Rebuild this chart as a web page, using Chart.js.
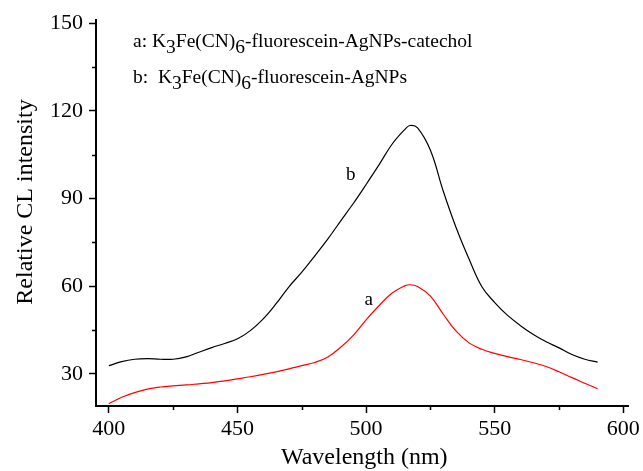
<!DOCTYPE html>
<html>
<head>
<meta charset="utf-8">
<script src="https://cdn.jsdelivr.net/npm/chart.js@4/dist/chart.umd.min.js"></script>
<style>
html,body{margin:0;padding:0;background:#fff;}
#wrap{position:relative;width:643px;height:471px;}
</style>
</head>
<body>
<div id="wrap"><canvas id="c" width="643" height="471"></canvas></div>
<script>
// ---- data ----
const wavelengths = [400,405,410,415,420,425,430,435,440,445,450,455,460,465,470,475,480,485,490,495,500,505,510,515,517,520,525,530,535,540,545,550,555,560,565,570,575,580,585,590];
const seriesA = [19.8,22.0,23.6,24.8,25.5,25.9,26.2,26.6,27.0,27.6,28.3,29.0,29.8,30.7,31.7,32.8,33.9,35.7,39.0,43.2,48.5,53.3,57.6,60.1,60.5,59.9,56.6,50.4,44.6,40.6,38.4,37.0,35.9,34.9,33.8,32.5,30.7,28.7,26.8,24.9];
const seriesB = [32.8,34.2,35.0,35.2,35.0,35.0,35.8,37.4,39.0,40.4,42.0,44.8,48.8,54.0,59.8,64.8,70.3,76.0,82.2,88.3,94.8,101.5,108.5,113.6,115.0,114.2,106.5,92.5,80.0,69.3,59.8,54.4,50.0,46.5,43.5,41.0,38.9,36.6,35.0,34.0];
const xTicks = [400,450,500,550,600];
const yTicks = [30,60,90,120,150];
const xMinor = [425,475,525,575];
const yMinor = [45,75,105,135];
const xTitle = 'Wavelength (nm)';
const yTitle = 'Relative CL intensity';
const legendA = [["a: K",0],["3",1],["Fe(CN)",0],["6",1],["-fluorescein-AgNPs-catechol",0]];
const legendB = [["b:  K",0],["3",1],["Fe(CN)",0],["6",1],["-fluorescein-AgNPs",0]];

const FONT = '"Liberation Serif", "Times New Roman", serif';

const extras = {
  id: 'extras',
  afterDraw(chart) {
    const ctx = chart.ctx;
    const xs = chart.scales.x, ys = chart.scales.y;
    ctx.save();
    // minor ticks
    ctx.strokeStyle = '#000';
    ctx.lineWidth = 1.5;
    ctx.beginPath();
    xMinor.forEach(v => {
      const px = Math.round(xs.getPixelForValue(v)) + 0.5;
      ctx.moveTo(px, xs.top); ctx.lineTo(px, xs.top + 4);
    });
    yMinor.forEach(v => {
      const py = Math.round(ys.getPixelForValue(v)) + 0.5;
      ctx.moveTo(ys.right, py); ctx.lineTo(ys.right - 4, py);
    });
    ctx.stroke();
    ctx.fillStyle = '#000';
    ctx.textBaseline = 'alphabetic';
    // axis titles
    ctx.font = '24px ' + FONT;
    ctx.textAlign = 'center';
    ctx.fillText(xTitle, (xs.left + xs.right) / 2 + 2, 464);
    ctx.save();
    ctx.translate(32, 202);
    ctx.rotate(-Math.PI / 2);
    ctx.fillText(yTitle, 0, 0);
    ctx.restore();
    // curve labels
    ctx.font = '19px ' + FONT;
    ctx.fillText('b', xs.getPixelForValue(494), ys.getPixelForValue(96.5));
    ctx.fillText('a', xs.getPixelForValue(501), ys.getPixelForValue(53.7));
    // legend text
    ctx.textAlign = 'left';
    const drawLine = (parts, x, y) => {
      parts.forEach(([t, sub]) => {
        ctx.fillText(t, x, y + (sub ? 6 : 0));
        x += ctx.measureText(t).width;
      });
    };
    ctx.font = '19.5px ' + FONT;
    drawLine(legendA, 133, 47);
    drawLine(legendB, 133, 83);
    ctx.restore();
  }
};

new Chart(document.getElementById('c'), {
  type: 'line',
  data: {
    labels: wavelengths,
    datasets: [
      { label: 'a', data: wavelengths.map((w, i) => ({x: w, y: seriesA[i]})), borderColor: '#ff0000', borderWidth: 1.2, pointRadius: 0, tension: 0.4, fill: false },
      { label: 'b', data: wavelengths.map((w, i) => ({x: w, y: seriesB[i]})), borderColor: '#000000', borderWidth: 1.2, pointRadius: 0, tension: 0.4, fill: false }
    ]
  },
  options: {
    responsive: false,
    animation: false,
    devicePixelRatio: 1,
    layout: { padding: { top: 20, right: 13, left: 0, bottom: 0 } },
    plugins: { legend: { display: false }, tooltip: { enabled: false } },
    scales: {
      x: {
        type: 'linear', min: 395, max: 602,
        afterBuildTicks: s => { s.ticks = xTicks.map(v => ({value: v})); },
        afterFit: s => { s.height = 65; },
        ticks: { color: '#000', font: { family: FONT, size: 22 }, padding: 3, maxRotation: 0 },
        grid: { drawOnChartArea: false, drawTicks: true, tickLength: 7, color: '#000', tickWidth: 1.5 },
        border: { display: true, color: '#000', width: 2 },
        title: { display: false }
      },
      y: {
        type: 'linear', min: 19, max: 151.1,
        afterBuildTicks: s => { s.ticks = yTicks.map(v => ({value: v})); },
        afterFit: s => { s.width = 96; },
        ticks: { color: '#000', font: { family: FONT, size: 22 }, padding: 6 },
        grid: { drawOnChartArea: false, drawTicks: true, tickLength: 7, color: '#000', tickWidth: 1.5 },
        border: { display: true, color: '#000', width: 2 },
        title: { display: false }
      }
    }
  },
  plugins: [extras]
});
</script>
</body>
</html>
